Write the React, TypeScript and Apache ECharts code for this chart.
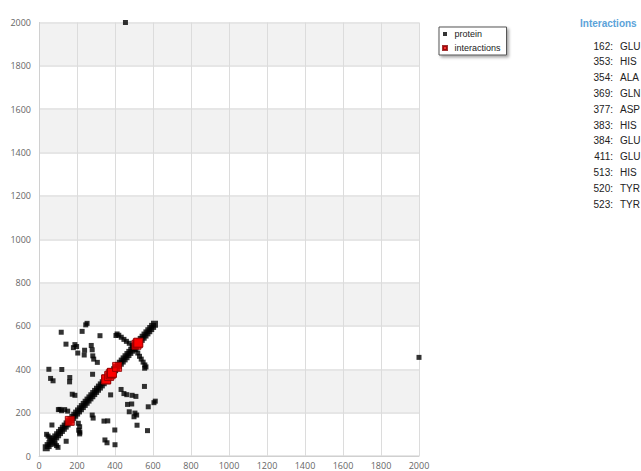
import React, { useEffect, useRef } from "react";
import * as echarts from "echarts";

// Residue index axis ticks
const axisMin = 0;
const axisMax = 2000;
const axisStep = 200;

// Residues along the self-contact band (i, i)
const diagonalResidues = [
  38, 48, 58, 68, 78, 88, 98, 108, 118, 128, 138, 148, 158, 168, 178, 188, 198, 208, 218, 228,
  238, 248, 258, 268, 278, 288, 298, 308, 318, 328, 338, 348, 358, 368, 378, 388, 398, 408, 418,
  428, 438, 448, 458, 468, 478, 488, 498, 508, 518, 528, 538, 548, 558, 568, 578, 588, 598, 608,
];

// Long-range contacts (i < j); the map is symmetric so each pair is drawn twice
const contactPairs: [number, number][] = [
  [246, 605], [253, 612], [117, 571], [227, 575], [321, 555], [142, 516], [189, 514],
  [198, 505], [181, 500], [275, 510], [280, 490], [204, 475], [238, 466], [288, 447],
  [307, 432], [283, 462], [240, 488], [282, 377], [52, 400], [120, 399], [61, 358],
  [74, 347], [161, 342], [162, 362], [175, 285], [189, 280], [110, 215], [119, 209],
  [102, 214], [135, 214], [151, 207], [68, 143],
  // hairpin crossings
  [40, 100], [48, 92], [56, 84],
  [490, 510], [475, 520], [460, 529], [447, 538], [433, 548], [420, 557], [411, 563], [405, 556],
  [455, 2000],
];

// Interacting residues
const interactionResidues = [162, 353, 354, 369, 377, 383, 384, 411, 513, 520, 523];
const interactionNames = ["GLU", "HIS", "ALA", "GLN", "ASP", "HIS", "GLU", "GLU", "HIS", "TYR", "TYR"];

const proteinData: any[] = [
  ...diagonalResidues.map((r) => ({ value: [r, r], symbolSize: 7 })),
  ...contactPairs.flatMap(([i, j]) => [[i, j], [j, i]]),
];
const interactionData = interactionResidues.map((r) => [r, r]);

const axisLabel = {
  color: "#666",
  fontSize: 9,
  fontFamily: "Open Sans",
  formatter: (v: number) => String(v),
};

function buildOption() {
  const listGraphics: any[] = [
    {
      type: "text",
      x: 580,
      y: 23,
      style: {
        text: "Interactions",
        fill: "#5ba3d9",
        font: "bold 10px 'Liberation Sans'",
        textVerticalAlign: "middle",
      },
    },
  ];
  interactionResidues.forEach((r, i) => {
    const y = 46 + i * 15.8;
    listGraphics.push({
      type: "text",
      x: 613,
      y,
      style: {
        text: r + ":",
        fill: "#222",
        font: "10px 'Liberation Sans'",
        textAlign: "right",
        textVerticalAlign: "middle",
      },
    });
    listGraphics.push({
      type: "text",
      x: 620,
      y,
      style: {
        text: interactionNames[i],
        fill: "#222",
        font: "10px 'Liberation Sans'",
        textAlign: "left",
        textVerticalAlign: "middle",
      },
    });
  });

  return {
    animation: false,
    backgroundColor: "#ffffff",
    grid: {
      left: 39,
      right: 222,
      top: 22.5,
      bottom: 15,
      containLabel: false,
      outerBoundsMode: "none",
    },
    legend: {
      orient: "vertical",
      left: 439,
      top: 27,
      data: ["protein", "interactions"],
      icon: "path://M0,0h4v4h-4z",
      symbolKeepAspect: true,
      itemWidth: 9,
      itemHeight: 4,
      itemGap: 4,
      padding: [2, 6, 2, 3],
      backgroundColor: "#ffffff",
      borderColor: "#555",
      borderWidth: 1,
      borderRadius: 0,
      shadowColor: "rgba(0,0,0,0.35)",
      shadowBlur: 3,
      shadowOffsetX: 2,
      shadowOffsetY: 2,
      textStyle: {
        fontSize: 9,
        lineHeight: 10,
        color: "#222",
        fontFamily: "Liberation Sans",
      },
    },
    xAxis: {
      type: "value",
      min: axisMin,
      max: axisMax,
      interval: axisStep,
      axisLine: { show: true, lineStyle: { color: "#d0d0d0" } },
      axisTick: { show: false },
      axisLabel: { ...axisLabel, margin: 5 },
      splitLine: { show: true, lineStyle: { color: "#dcdcdc", width: 1 } },
    },
    yAxis: {
      type: "value",
      min: axisMin,
      max: axisMax,
      interval: axisStep,
      axisLine: { show: true, lineStyle: { color: "#d0d0d0" } },
      axisTick: { show: false },
      axisLabel: { ...axisLabel, margin: 8 },
      splitLine: { show: true, lineStyle: { color: "#e6e6e6", width: 2 } },
      splitArea: { show: true, areaStyle: { color: ["#ffffff", "#f2f2f2"] } },
    },
    series: [
      {
        name: "protein",
        type: "scatter",
        symbol: "rect",
        symbolSize: 5,
        clip: false,
        itemStyle: { color: "#000000" },
        data: proteinData,
        z: 2,
      },
      {
        name: "interactions",
        type: "scatter",
        symbol: "rect",
        symbolSize: 9,
        itemStyle: { color: "#ff0000", borderColor: "#8b0000", borderWidth: 1 },
        data: interactionData,
        z: 3,
      },
    ],
    graphic: listGraphics,
  };
}

export default function App() {
  const ref = useRef<HTMLDivElement>(null);
  useEffect(() => {
    if (!ref.current) return;
    const chart = echarts.init(ref.current, null, { renderer: "svg" });
    chart.setOption(buildOption() as any);
    return () => chart.dispose();
  }, []);
  return (
    <div
      ref={ref}
      style={{ position: "fixed", left: 0, top: 0, width: 641, height: 471 }}
    />
  );
}
